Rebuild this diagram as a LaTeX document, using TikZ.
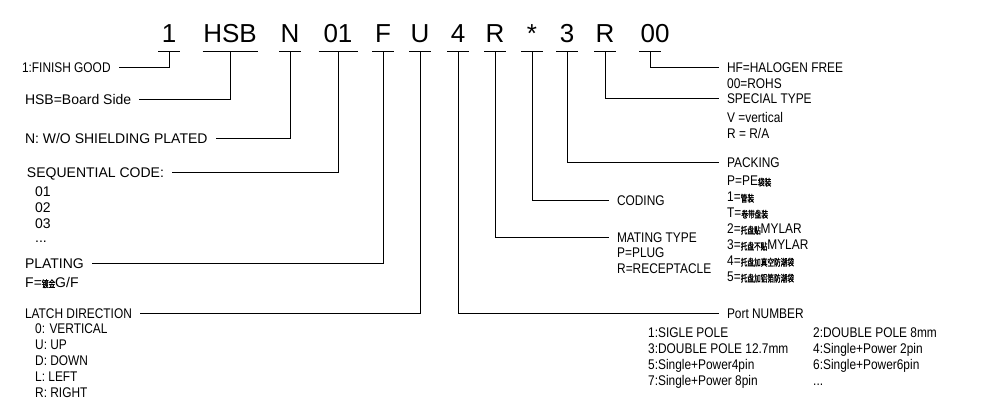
\documentclass[tikz,border=0pt]{standalone}
\usepackage{fontspec}
\setmainfont{Liberation Sans}
\newfontfamily\cadfont{Liberation Sans}
\newfontfamily\cadnarrow[FakeStretch=0.85]{Liberation Sans}
\newfontfamily\cjk[FakeStretch=0.7, FakeBold=1.5]{Noto Sans CJK SC}
\newcommand\zh[1]{{\cjk\fontsize{9.5}{16}\selectfont #1}}

\tikzset{
    code/.style={font=\cadfont\fontsize{26}{26}\selectfont, inner xsep=0pt, inner ysep=8pt, anchor=base},
    lbl/.style={font=\cadnarrow\fontsize{14}{16}\selectfont, inner sep=0pt, outer xsep=8pt,
        text height=10pt, text depth=0pt, anchor=west},
    lblw/.style={lbl, font=\cadfont\fontsize{14}{16}\selectfont},
    body/.style={font=\cadnarrow\fontsize{14}{16}\selectfont, inner sep=0pt, align=left, anchor=north west},
    bodyw/.style={body, font=\cadfont\fontsize{14}{16}\selectfont},
    wire/.style={line width=1pt}
}

\begin{document}
\begin{tikzpicture}[x=1pt, y=-1pt]
    \useasboundingbox (0,0) rectangle (985,406);

    % 料号各段
    \node[code] (fin)  at (169,43) {1};
    \node[code] (side) at (230,43) {HSB};
    \node[code] (shd)  at (290,43) {N};
    \node[code] (seq)  at (338,43) {01};
    \node[code] (plt)  at (383,43) {F};
    \node[code] (lat)  at (420,43) {U};
    \node[code] (prt)  at (458,43) {4};
    \node[code] (mat)  at (495,43) {R};
    \node[code] (cod)  at (532,43) {*};
    \node[code] (pak)  at (567,43) {3};
    \node[code] (spc)  at (605,43) {R};
    \node[code] (hf)   at (655,43) {00};
    \coordinate (hfb) at ([xshift=-5]hf.south);

    % 下划线
    \foreach \n/\w in {fin/22, side/55, shd/22, seq/39, plt/22, lat/22, prt/22, mat/22, cod/22, pak/22, spc/22}
        \draw[wire] ([xshift=-\w/2]\n.south) -- ([xshift=\w/2]\n.south);
    \draw[wire] ([xshift=-11]hfb) -- ([xshift=11]hfb);

    % 左侧说明
    \node[lbl]  (lfin)  at (14,68)  {1:FINISH GOOD};
    \node[lblw] (lside) at (17,100) {HSB=Board Side};
    \node[lblw] (lshd)  at (17,139) {N: W/O SHIELDING PLATED};
    \node[lblw] (lseq)  at (19,173) {SEQUENTIAL CODE:};
    \node[bodyw] (bseq) at (35,187) {01\\02\\03\\[-2pt]...};
    \node[lblw] (lplt)  at (17,263) {PLATING};
    \node[bodyw] (bplt) at (25,277) {F=\zh{镀金}G/F};
    \node[lbl]  (llat)  at (17,313) {LATCH DIRECTION};
    \node[body] (blat)  at (35,324) {0: VERTICAL\\U: UP\\D: DOWN\\L: LEFT\\R: RIGHT};

    % 右侧说明
    \node[lbl]  (lhf)   at (719,68)  {HF=HALOGEN FREE};
    \node[body] (bhf)   at (727,79)  {00=ROHS};
    \node[lbl]  (lspc)  at (719,99)  {SPECIAL TYPE};
    \node[body] (bspc)  at (727,112) {V =vertical\\R = R/A};
    \node[lbl]  (lpak)  at (719,163) {PACKING};
    \node[body] (bpak)  at (727,176) {P=PE\zh{袋装}\\1=\zh{管装}\\T=\zh{卷带盘装}\\2=\zh{托盘贴}MYLAR\\3=\zh{托盘不贴}MYLAR\\4=\zh{托盘加真空防潮袋}\\5=\zh{托盘加铝箔防潮袋}};
    \node[lbl]  (lcod)  at (609,201) {CODING};
    \node[lbl]  (lmat)  at (609,237) {MATING TYPE};
    \node[body] (bmat)  at (617,248) {P=PLUG\\R=RECEPTACLE};
    \node[lbl]  (lprt)  at (719,313) {Port NUMBER};
    \node[body] (bprta) at (648,328) {1:SIGLE POLE\\3:DOUBLE POLE 12.7mm\\5:Single+Power4pin\\7:Single+Power 8pin};
    \node[body] (bprtb) at (813,328) {2:DOUBLE POLE 8mm\\4:Single+Power 2pin\\6:Single+Power6pin\\ ...};

    % 引线
    \draw[wire] (fin)  |- (lfin);
    \draw[wire] (side) |- (lside);
    \draw[wire] (shd)  |- (lshd);
    \draw[wire] (seq)  |- (lseq);
    \draw[wire] (plt)  |- (lplt);
    \draw[wire] (lat)  |- (llat);
    \draw[wire] (prt)  |- (lprt);
    \draw[wire] (mat)  |- (lmat);
    \draw[wire] (cod)  |- (lcod);
    \draw[wire] (pak)  |- (lpak);
    \draw[wire] (spc)  |- (lspc);
    \draw[wire] (hfb)  |- (lhf);
\end{tikzpicture}
\end{document}
